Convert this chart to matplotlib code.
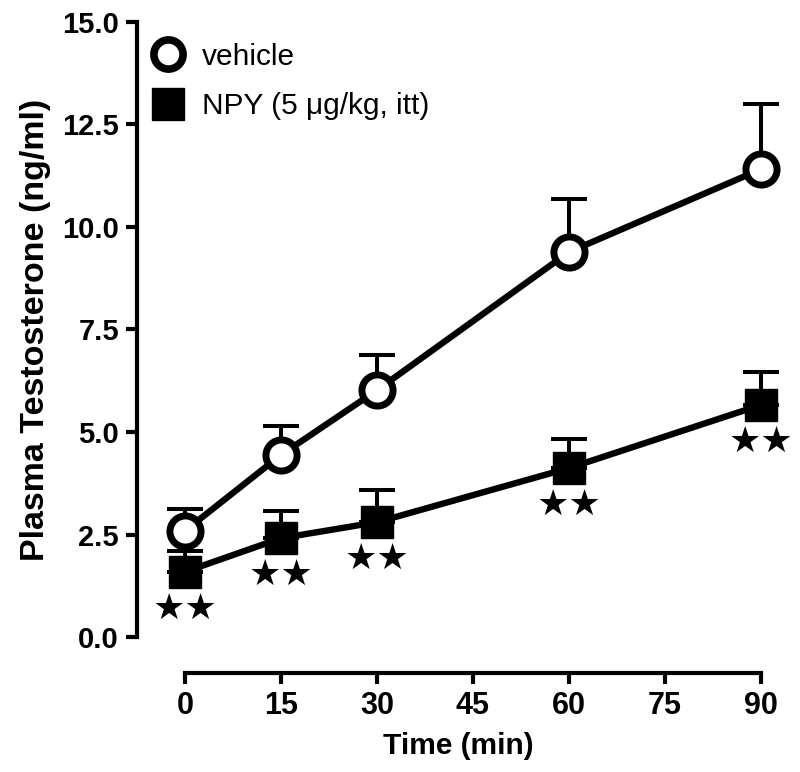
import matplotlib
matplotlib.use("Agg")
import matplotlib.pyplot as plt
from matplotlib.lines import Line2D

time_min = [0, 15, 30, 60, 90]
vehicle_mean = [2.59, 4.44, 6.02, 9.39, 11.41]
vehicle_sem = [0.53, 0.71, 0.86, 1.29, 1.59]
npy_mean = [1.59, 2.41, 2.80, 4.12, 5.66]
npy_sem = [0.51, 0.66, 0.79, 0.71, 0.80]
sig_marks = ["★★", "★★", "★★", "★★", "★★"]
x_ticks = [0, 15, 30, 45, 60, 75, 90]
y_ticks = [0.0, 2.5, 5.0, 7.5, 10.0, 12.5, 15.0]
labels = ["vehicle", "NPY (5 \u03bcg/kg, itt)"]

plt.rcParams['font.family'] = ['Liberation Sans', 'DejaVu Sans']

fig = plt.figure(figsize=(8, 7.72), dpi=100)
ax = fig.add_axes([137/800, (772-637)/772, (780-137)/800, (637-22)/772])
ax.set_xlim(-7.5, 92.97)
ax.set_ylim(0, 15)

lw = 4.6
ax.errorbar(time_min, vehicle_mean, yerr=[[0]*5, vehicle_sem], fmt='none',
            ecolor='black', elinewidth=2.9, capsize=13.3, capthick=2.9, zorder=2, clip_on=False)
ax.errorbar(time_min, npy_mean, yerr=[[0]*5, npy_sem], fmt='none',
            ecolor='black', elinewidth=2.9, capsize=13.3, capthick=2.9, zorder=2, clip_on=False)
ax.plot(time_min, npy_mean, color='black', lw=lw, marker='s', markersize=22.7,
        markerfacecolor='black', markeredgecolor='black', zorder=3, clip_on=False)
ax.plot(time_min, vehicle_mean, color='black', lw=lw, marker='o', markersize=22.4,
        markerfacecolor='white', markeredgecolor='black', markeredgewidth=5, zorder=4, clip_on=False)

for t, m, s in zip(time_min, npy_mean, sig_marks):
    ax.annotate(s, (t, m), xytext=(0, -26.5), textcoords='offset points',
                ha='center', va='center', fontsize=26, family='DejaVu Sans', color='black')

for side in ['top', 'right']:
    ax.spines[side].set_visible(False)
ax.spines['left'].set_linewidth(3)
ax.spines['bottom'].set_linewidth(3)
ax.spines['left'].set_bounds(0, 15)
ax.spines['bottom'].set_bounds(0, 90)
ax.spines['bottom'].set_position(('outward', 26))
ax.spines['left'].set_capstyle('projecting')
ax.spines['bottom'].set_capstyle('projecting')

ax.set_xticks(x_ticks)
ax.set_xticklabels([str(v) for v in x_ticks])
ax.set_yticks(y_ticks)
ax.set_yticklabels([f"{v:.1f}" for v in y_ticks])
ax.tick_params(axis='both', length=8, width=3, direction='out')
ax.tick_params(axis='y', pad=5)
ax.tick_params(axis='x', pad=5)
for lab in ax.get_yticklabels():
    lab.set_fontweight('bold'); lab.set_fontsize(21)
for lab in ax.get_xticklabels():
    lab.set_fontweight('bold'); lab.set_fontsize(22)

ax.set_ylabel("Plasma Testosterone (ng/ml)", fontsize=24.5, fontweight='bold', labelpad=8)
ax.set_xlabel("Time (min)", fontsize=21.5, fontweight='bold', labelpad=8)

handles = [Line2D([], [], ls='none', marker='o', markersize=21, markerfacecolor='white',
                  markeredgecolor='black', markeredgewidth=5.5),
           Line2D([], [], ls='none', marker='s', markersize=23, markerfacecolor='black',
                  markeredgecolor='black')]
leg = ax.legend(handles, labels, loc='upper left', bbox_to_anchor=(-0.01, 1.0),
                frameon=False, fontsize=21.5, handlelength=1.1, handletextpad=0.6,
                labelspacing=0.72, borderaxespad=0.3)

fig.savefig("out.png", dpi=100)
